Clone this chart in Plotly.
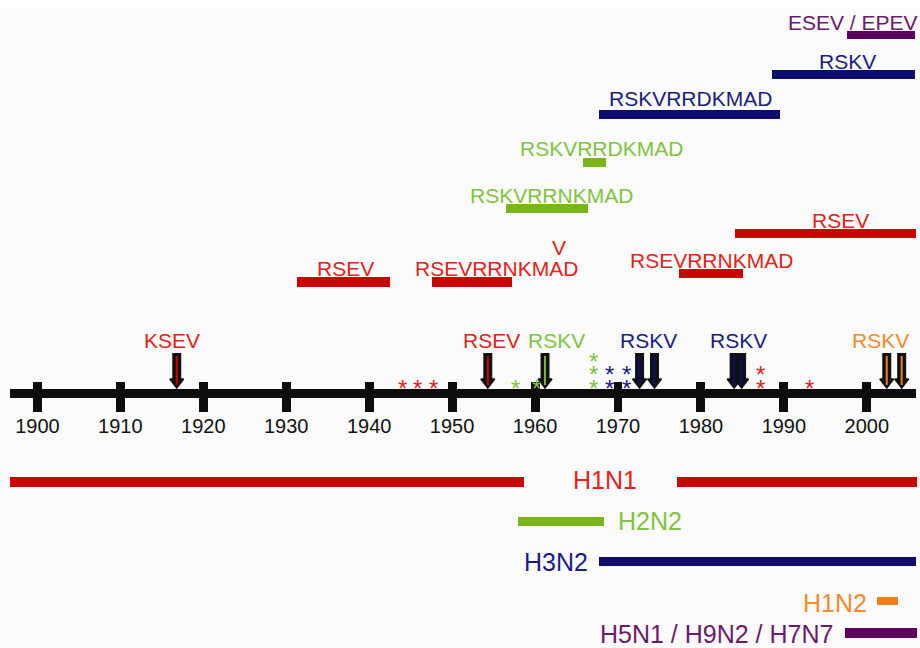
import plotly.graph_objects as go

# ---------------- data ----------------
decade_years = [1900, 1910, 1920, 1930, 1940, 1950, 1960, 1970, 1980, 1990, 2000]
timeline_start = 1896.7
timeline_end = 2005.9

# cleavage-site motifs (top panel)
motif_labels = ["ESEV / EPEV", "RSKV", "RSKVRRDKMAD", "RSKVRRDKMAD", "RSKVRRNKMAD",
                "RSEV", "RSEVRRNKMAD", "RSEV", "RSEVRRNKMAD"]
motif_groups = ["avian", "H3", "H3", "H2", "H2", "H1", "H1", "H1", "H1"]
motif_start = [1997.6, 1988.6, 1967.7, 1965.8, 1956.5, 1984.1, 1977.4, 1931.3, 1947.6]
motif_end = [2005.8, 2005.8, 1989.5, 1968.6, 1966.4, 2005.9, 1985.1, 1942.5, 1957.2]
motif_label_year = [1998.3, 1997.7, 1978.7, 1968.0, 1962.0, 1996.8, 1981.3, 1937.2, 1955.4]
extra_letter = "V"
extra_letter_year = 1962.9

# subtypes circulating (bottom panel)
subtype_labels = ["H1N1", "H2N2", "H3N2", "H1N2", "H5N1 / H9N2 / H7N7"]
subtype_groups = ["H1", "H2", "H3", "H1N2", "avian"]
subtype_periods = [[(1896.7, 1958.7), (1977.1, 2006.1)],
                   [(1958.0, 1968.3)],
                   [(1967.7, 2005.9)],
                   [(2001.2, 2003.7)],
                   [(1997.4, 2006.1)]]
subtype_label_year = [1968.4, 1973.9, 1962.5, 1996.2, 1981.9]

# arrows on the time line
arrow_years = [1916.8, 1954.3, 1961.2, 1972.6, 1974.4, 1984.0, 1984.9, 2002.4, 2004.2]
arrow_groups = ["H1", "H1", "H2", "H3", "H3", "H3", "H3", "H1N2", "H1N2"]
arrow_labels = ["KSEV", "RSEV", "RSKV", "RSKV", "RSKV", "RSKV"]
arrow_label_groups = ["H1", "H1", "H2", "H3", "H3", "H1N2"]
arrow_label_years = [1916.2, 1954.75, 1962.6, 1973.7, 1984.5, 2001.7]

# asterisks on the time line
star_years = [1944.0, 1945.8, 1947.7, 1957.7, 1960.2, 1967.1, 1969.0, 1971.05, 1987.2, 1993.1]
star_counts = [1, 1, 1, 1, 1, 3, 2, 2, 2, 1]
star_groups = ["H1", "H1", "H1", "H2", "H2", "H2", "H3", "H3", "H1", "H1"]

# ---------------- styles / layout ----------------
bar_color = {"H1": "#cc0000", "H2": "#7ab51d", "H3": "#0d0d6e", "H1N2": "#ef7f1a", "avian": "#5c005e"}
text_color = {"H1": "#e2231a", "H2": "#80c342", "H3": "#1c1c80", "H1N2": "#f28a2e", "avian": "#6b1a6b"}
FONT = "Arial, Liberation Sans, sans-serif"

motif_bar_y = [35, 74.5, 114.5, 162.5, 208.5, 233.5, 273.5, 282, 282]
motif_bar_w = [8, 9, 9, 9, 9, 9, 9, 10, 10]
motif_text_y = [22, 61, 98.5, 148, 195.5, 220, 260.5, 268, 268]
extra_letter_y = 247.5

subtype_bar_y = [481.5, 521.5, 561.5, 601, 633]
subtype_bar_w = [10, 9, 9, 8, 10]
subtype_text_y = [480, 521, 562, 602.5, 634]

axis_y, axis_w = 393.5, 9.5
tick_base, tick_len, tick_w = 382, 30, 1.08
year_label_y = 428
arrow_top, arrow_shaft_end, arrow_head_y = 353, 380, 382
arrow_inner_top, arrow_inner_bot = 356, 385
arrow_label_y = 340
star_base_y, star_step = 383, 13.2

fig = go.Figure()

# motif bars
for lab, g, s, e, y, w in zip(motif_labels, motif_groups, motif_start, motif_end, motif_bar_y, motif_bar_w):
    fig.add_trace(go.Bar(orientation="h", y=[y], x=[e - s], base=[s], width=w,
                         marker=dict(color=bar_color[g], line=dict(width=0)),
                         hoverinfo="skip", showlegend=False))

# subtype bars
for lab, g, periods, y, w in zip(subtype_labels, subtype_groups, subtype_periods, subtype_bar_y, subtype_bar_w):
    for s, e in periods:
        fig.add_trace(go.Bar(orientation="h", y=[y], x=[e - s], base=[s], width=w,
                             marker=dict(color=bar_color[g], line=dict(width=0)),
                             hoverinfo="skip", showlegend=False))

# time line
fig.add_trace(go.Bar(orientation="h", y=[axis_y], x=[timeline_end - timeline_start], base=[timeline_start],
                     width=axis_w, marker=dict(color="#0d0d0d", line=dict(width=0)),
                     hoverinfo="skip", showlegend=False))
fig.add_trace(go.Bar(x=decade_years, y=[tick_len] * len(decade_years), base=[tick_base] * len(decade_years),
                     width=tick_w, marker=dict(color="#0d0d0d", line=dict(width=0)),
                     hoverinfo="skip", showlegend=False))
fig.add_trace(go.Scatter(x=decade_years, y=[year_label_y] * len(decade_years), mode="text",
                         text=[str(y) for y in decade_years], textposition="middle center",
                         textfont=dict(family=FONT, size=20, color="#111111"),
                         hoverinfo="skip", showlegend=False))

# arrows: black shaft + head, coloured inner line
sx, sy = [], []
for yr in arrow_years:
    sx += [yr, yr, None]
    sy += [arrow_top, arrow_shaft_end, None]
fig.add_trace(go.Scatter(x=sx, y=sy, mode="lines", line=dict(color="#111111", width=9),
                         hoverinfo="skip", showlegend=False))
fig.add_trace(go.Scatter(x=arrow_years, y=[arrow_head_y] * len(arrow_years), mode="markers",
                         marker=dict(symbol="triangle-down", size=12, color="#111111",
                                     line=dict(color="#111111", width=1.5)),
                         hoverinfo="skip", showlegend=False))
for yr, g in zip(arrow_years, arrow_groups):
    fig.add_trace(go.Scatter(x=[yr, yr], y=[arrow_inner_top, arrow_inner_bot], mode="lines",
                             line=dict(color=bar_color[g], width=2),
                             hoverinfo="skip", showlegend=False))

annotations = []
def label(x, y, text, color, size, yshift=0):
    annotations.append(dict(x=x, y=y, xref="x", yref="y", text=text, showarrow=False,
                            xanchor="center", yanchor="middle", yshift=yshift,
                            font=dict(family=FONT, size=size, color=color)))

for t, g, x in zip(arrow_labels, arrow_label_groups, arrow_label_years):
    label(x, arrow_label_y, t, text_color[g], 21)

# asterisks
for x, n, g in zip(star_years, star_counts, star_groups):
    for k in range(n):
        label(x, star_base_y - star_step * k, "*", text_color[g], 24, yshift=-5)

# motif labels
for t, g, x, y in zip(motif_labels, motif_groups, motif_label_year, motif_text_y):
    label(x, y, t, text_color[g], 21)
label(extra_letter_year, extra_letter_y, extra_letter, text_color["H1"], 21)

# subtype labels
for t, g, x, y in zip(subtype_labels, subtype_groups, subtype_label_year, subtype_text_y):
    label(x, y, t, text_color[g], 25)

fig.update_layout(
    width=920, height=648,
    margin=dict(l=0, r=0, t=9, b=0),
    paper_bgcolor="#ffffff", plot_bgcolor="#fbfbfb",
    barmode="overlay", bargap=0,
    xaxis=dict(range=[1895.49, 2006.41], visible=False, fixedrange=True),
    yaxis=dict(range=[648, 9], visible=False, fixedrange=True),
    annotations=annotations,
    showlegend=False,
)

fig.write_html("out.html", config={"displayModeBar": False},
               post_script="document.body.style.margin='0px';document.body.style.overflow='hidden';")
